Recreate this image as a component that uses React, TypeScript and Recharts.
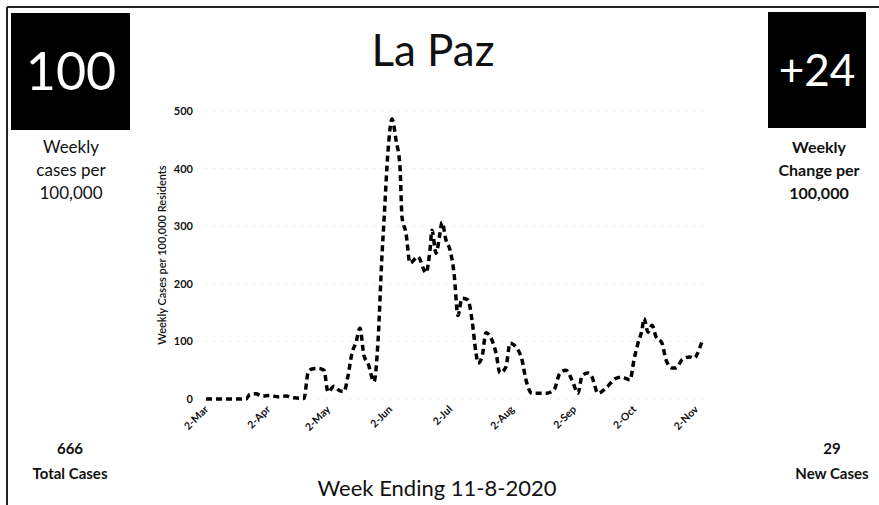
import React from 'react';
import { LineChart, Line, XAxis, YAxis, CartesianGrid } from 'recharts';

// days counted from 2-Mar-2020
const days = [
  0, 10, 20, 22, 25, 28, 32, 36, 40, 44, 49, 51, 53, 56, 59, 61, 64, 67, 69, 71,
  73, 75, 77, 79, 81, 84, 86, 88, 89, 91, 93, 95, 97, 98, 100, 102, 106, 110, 112, 113,
  115, 117, 118, 120, 122, 124, 126, 128, 131, 133, 135, 136, 138, 140, 143, 145, 147, 150, 152, 155,
  158, 160, 163, 170, 174, 177, 180, 183, 186, 188, 191, 193, 196, 200, 205, 208, 212, 214, 216, 218,
  219, 221, 223, 225, 228, 230, 233, 235, 238, 242, 244, 247, 248,
];

const weeklyRate = [
  0, 0, 0, 8, 9, 5, 6, 4, 5, 2, 1, 45, 52, 53, 50, 12, 22, 14, 13, 40,
  80, 98, 123, 75, 62, 30, 100, 250, 310, 430, 486, 450, 403, 316, 288, 236, 247, 219, 259, 293,
  253, 288, 307, 276, 259, 219, 145, 175, 172, 137, 80, 62, 73, 115, 102, 80, 45, 56, 97, 90,
  68, 33, 10, 10, 16, 45, 50, 33, 10, 40, 45, 38, 10, 19, 36, 38, 33, 68, 97, 120,
  140, 116, 128, 108, 97, 68, 54, 54, 68, 73, 71, 90, 100,
];

const tickDays = [0, 31, 61, 92, 122, 153, 184, 214, 245];
const tickLabels = ['2-Mar', '2-Apr', '2-May', '2-Jun', '2-Jul', '2-Aug', '2-Sep', '2-Oct', '2-Nov'];
const yTicks = [0, 100, 200, 300, 400, 500];

const data = days.map((d, i) => ({ day: d, rate: weeklyRate[i] }));

const FONT = 'Lato, "Open Sans", sans-serif';

const MonthTick = (props: any) => {
  const { x, y, payload } = props;
  const idx = tickDays.indexOf(payload.value);
  return (
    <g transform={`translate(${x + 3},${y + 9})`}>
      <text x={0} y={0} textAnchor="end" transform="rotate(-45)" fontSize={10.5} fontWeight={700} fill="#111" fontFamily={FONT}>
        {tickLabels[idx]}
      </text>
    </g>
  );
};

export default function App() {
  return (
    <div style={{ position: 'absolute', left: 0, top: 0, width: 879, height: 505, background: '#fff', fontFamily: FONT }}>
      <svg width={879} height={505} style={{ position: 'absolute', left: 0, top: 0 }}>
        <line x1={7} y1={7} x2={879} y2={7} stroke="#222" strokeWidth={2} />
        <line x1={7} y1={7} x2={7} y2={505} stroke="#222" strokeWidth={2} />

        <rect x={11} y={13} width={119} height={117} fill="#000" />
        <text x={71} y={90} textAnchor="middle" fill="#fff" fontSize={52} fontFamily={FONT}>100</text>
        <text x={71} y={153} textAnchor="middle" fill="#111" fontSize={17} fontFamily={FONT}>Weekly</text>
        <text x={71} y={176} textAnchor="middle" fill="#111" fontSize={17} fontFamily={FONT}>cases per</text>
        <text x={71} y={199} textAnchor="middle" fill="#111" fontSize={17} fontFamily={FONT}>100,000</text>

        <rect x={768} y={12} width={98} height={116} fill="#000" />
        <text x={817} y={86} textAnchor="middle" fill="#fff" fontSize={44} fontFamily={FONT}>+24</text>
        <text x={819} y={153} textAnchor="middle" fill="#111" fontSize={16} fontWeight={700} fontFamily={FONT}>Weekly</text>
        <text x={819} y={176} textAnchor="middle" fill="#111" fontSize={16} fontWeight={700} fontFamily={FONT}>Change per</text>
        <text x={819} y={199} textAnchor="middle" fill="#111" fontSize={16} fontWeight={700} fontFamily={FONT}>100,000</text>

        <text x={433} y={66} textAnchor="middle" fill="#111" fontSize={44} fontFamily={FONT}>La Paz</text>

        <text x={70} y={454} textAnchor="middle" fill="#111" fontSize={15} fontWeight={700} fontFamily={FONT}>666</text>
        <text x={70} y={479} textAnchor="middle" fill="#111" fontSize={15} fontWeight={700} fontFamily={FONT}>Total Cases</text>
        <text x={832} y={454} textAnchor="middle" fill="#111" fontSize={15} fontWeight={700} fontFamily={FONT}>29</text>
        <text x={832} y={479} textAnchor="middle" fill="#111" fontSize={15} fontWeight={700} fontFamily={FONT}>New Cases</text>
        <text x={437} y={496} textAnchor="middle" fill="#111" fontSize={22} fontFamily={FONT}>Week Ending 11-8-2020</text>

        <text x={0} y={0} transform="translate(166,255) rotate(-90)" textAnchor="middle" fill="#111" fontSize={11} fontWeight={600} fontFamily={FONT}>
          Weekly Cases per 100,000 Residents
        </text>
      </svg>

      <div style={{ position: 'absolute', left: 150, top: 100 }}>
        <LineChart width={570} height={340} data={data} margin={{ top: 11, right: 10, left: 0, bottom: 0 }}>
          <CartesianGrid vertical={false} stroke="#d6d6d6" strokeDasharray="1 7" />
          <XAxis
            dataKey="day"
            type="number"
            domain={[0, 252]}
            ticks={tickDays}
            tick={<MonthTick />}
            axisLine={false}
            tickLine={false}
            tickSize={0}
            height={41}
            interval={0}
          />
          <YAxis
            domain={[0, 500]}
            ticks={yTicks}
            width={56}
            axisLine={false}
            tickLine={false}
            tickSize={0}
            tickMargin={13}
            tick={{ fontSize: 11, fontWeight: 700, fill: '#111', fontFamily: FONT }}
          />
          <Line
            type="monotone"
            dataKey="rate"
            stroke="#000"
            strokeWidth={3.5}
            strokeDasharray="6 4"
            dot={false}
            isAnimationActive={false}
          />
        </LineChart>
      </div>
    </div>
  );
}
